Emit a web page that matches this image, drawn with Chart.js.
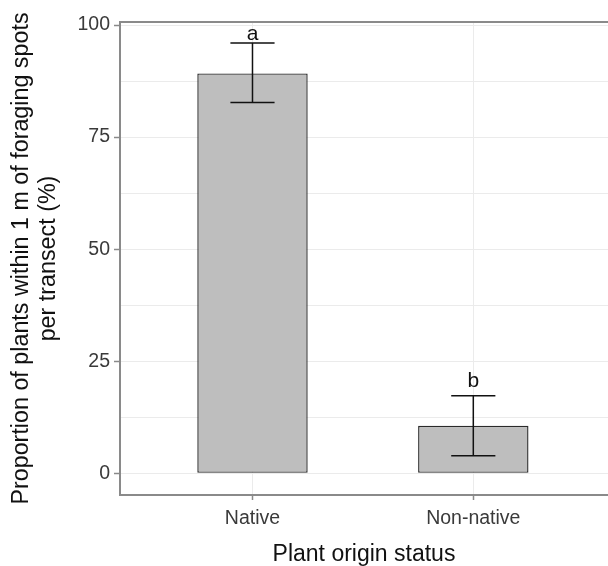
<!DOCTYPE html>
<html>
<head>
  <script src="https://cdn.jsdelivr.net/npm/chart.js"></script>
  <style>
    body { margin:0; background:#fff; overflow:hidden; }
  </style>
</head>
<body>
<canvas id="myChart" width="608" height="566"></canvas>
<script>
  // values
  var categories = ["Native", "Non-native"];
  var means      = [89.2, 10.6];
  var errLower   = [82.7, 3.9];
  var errUpper   = [96.0, 17.3];
  var letters    = ["a", "b"];
  var letterY    = [96.7, 19.3];
  var yTicks     = [0, 12.5, 25, 37.5, 50, 62.5, 75, 87.5, 100];
  var yMin = -4.84, yMax = 100.67;

  var FONT = "'Liberation Sans', Arial, sans-serif";
  var AXIS = "#8a8a8a";

  // error bars, significance letters and the top panel border
  var extras = {
    id: "extras",
    afterDatasetsDraw: function(chart) {
      var ctx = chart.ctx, xs = chart.scales.x, ys = chart.scales.y;
      var area = chart.chartArea;
      ctx.save();
      ctx.strokeStyle = AXIS;
      ctx.lineWidth = 2;
      ctx.beginPath();
      ctx.moveTo(area.left, area.top);
      ctx.lineTo(area.right + 2, area.top);
      ctx.stroke();

      ctx.strokeStyle = "#111";
      ctx.lineWidth = 1.5;
      for (var i = 0; i < categories.length; i++) {
        var x = xs.getPixelForValue(i);
        var half = xs.getPixelForValue(i + 0.1) - x;
        var yl = ys.getPixelForValue(errLower[i]);
        var yu = ys.getPixelForValue(errUpper[i]);
        ctx.beginPath();
        ctx.moveTo(x, yl); ctx.lineTo(x, yu);
        ctx.moveTo(x - half, yl); ctx.lineTo(x + half, yl);
        ctx.moveTo(x - half, yu); ctx.lineTo(x + half, yu);
        ctx.stroke();

        ctx.fillStyle = "#111";
        ctx.font = "21px " + FONT;
        ctx.textAlign = "center";
        ctx.textBaseline = "alphabetic";
        ctx.fillText(letters[i], x, ys.getPixelForValue(letterY[i]));
      }
      ctx.restore();
    }
  };

  var points = [];
  for (var i = 0; i < categories.length; i++) points.push({x: i, y: means[i]});

  new Chart(document.getElementById("myChart"), {
    type: "bar",
    data: {
      datasets: [{
        data: points,
        backgroundColor: "#bebebe",
        borderColor: "#2a2a2a",
        borderWidth: 1.4,
        borderSkipped: false,
        categoryPercentage: 0.5,
        barPercentage: 1
      }]
    },
    options: {
      responsive: false,
      devicePixelRatio: 1,
      animation: false,
      layout: { padding: { top: 22, left: 0, right: 0, bottom: 0 } },
      plugins: { legend: { display: false }, tooltip: { enabled: false } },
      scales: {
        x: {
          type: "linear",
          min: -0.6,
          max: 1.61,
          offset: false,
          afterFit: function(s) { s.height = 71; },
          afterBuildTicks: function(s) {
            s.ticks = categories.map(function(c, i) { return {value: i}; });
          },
          grid: { offset: false, color: "#ebebeb", lineWidth: 1, tickLength: 5, tickColor: AXIS, tickWidth: 1.5 },
          border: { color: AXIS, width: 2 },
          ticks: {
            padding: 7,
            color: "#3a3a3a",
            font: { family: FONT, size: 19.5 },
            maxRotation: 0,
            autoSkip: false,
            callback: function(v) { return categories[v] !== undefined ? categories[v] : ""; }
          },
          title: {
            display: true,
            text: "Plant origin status",
            color: "#111",
            font: { family: FONT, size: 23, lineHeight: 1 },
            padding: { top: 0, bottom: 0 }
          }
        },
        y: {
          min: yMin,
          max: yMax,
          afterFit: function(s) { s.width = 120; },
          afterBuildTicks: function(s) {
            s.ticks = yTicks.map(function(v) { return {value: v}; });
          },
          grid: {
            color: "#ebebeb",
            lineWidth: 1,
            tickLength: 6,
            tickWidth: 1.5,
            tickColor: function(c) { return (c.tick && c.tick.value % 25 === 0) ? AXIS : "rgba(0,0,0,0)"; }
          },
          border: { color: AXIS, width: 2 },
          ticks: {
            padding: 4,
            color: "#3a3a3a",
            font: { family: FONT, size: 19.5 },
            autoSkip: false,
            callback: function(v) { return v % 25 === 0 ? String(v) : ""; }
          },
          title: {
            display: true,
            text: ["Proportion of plants within 1 m of foraging spots", "per transect (%)"],
            color: "#111",
            font: { family: FONT, size: 23.3, lineHeight: 1.16 },
            padding: { top: 8.5, bottom: 0 }
          }
        }
      }
    },
    plugins: [extras]
  });
</script>
</body>
</html>
